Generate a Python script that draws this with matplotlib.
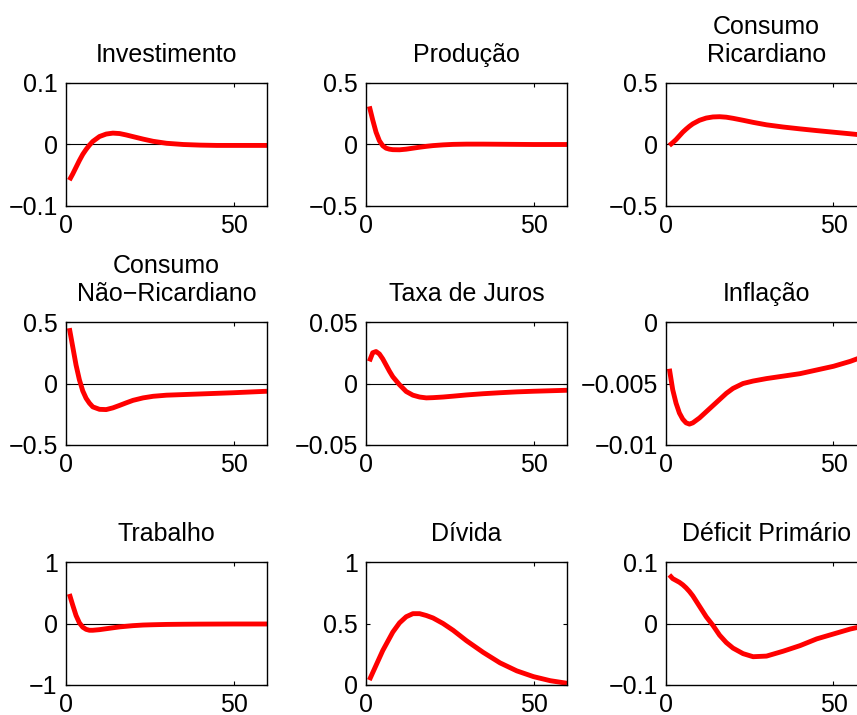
import numpy as np
import matplotlib
matplotlib.use('Agg')
import matplotlib.pyplot as plt

plt.rcParams['font.family'] = ['Liberation Sans', 'DejaVu Sans']
plt.rcParams['axes.unicode_minus'] = True

# periodos das respostas a impulso
t = [1, 2, 3, 4, 5, 6, 7, 8, 10, 12, 14, 16, 18, 20, 23, 26, 30, 35, 40, 45, 50, 55, 60]

investimento = [-0.058, -0.048, -0.037, -0.026, -0.016, -0.008, -0.001, 0.005, 0.013, 0.017,
                0.0185, 0.0178, 0.0155, 0.0128, 0.0088, 0.0052, 0.002, 0.0, -0.001, -0.0015,
                -0.0015, -0.0015, -0.0015]
producao = [0.31, 0.2, 0.1, 0.03, -0.01, -0.03, -0.038, -0.042, -0.043, -0.038,
            -0.03, -0.022, -0.015, -0.009, -0.003, 0.001, 0.003, 0.003, 0.002, 0.001,
            0.0, 0.0, 0.0]
cons_ric = [-0.008, 0.015, 0.04, 0.07, 0.1, 0.125, 0.148, 0.168, 0.197, 0.215,
            0.224, 0.226, 0.222, 0.213, 0.197, 0.18, 0.16, 0.142, 0.127, 0.113,
            0.1, 0.087, 0.073]
cons_nric = [0.45, 0.3, 0.15, 0.03, -0.06, -0.12, -0.16, -0.19, -0.21, -0.212,
             -0.198, -0.178, -0.157, -0.137, -0.117, -0.104, -0.095, -0.09, -0.085, -0.08,
             -0.075, -0.069, -0.063]
juros = [0.018, 0.025, 0.026, 0.024, 0.02, 0.015, 0.01, 0.0055, -0.001, -0.0065,
         -0.0095, -0.011, -0.0117, -0.0115, -0.011, -0.0103, -0.0093, -0.0083, -0.0075, -0.0068,
         -0.0063, -0.0059, -0.0055]
inflacao = [-0.0038, -0.0055, -0.0066, -0.0074, -0.0079, -0.0082, -0.0083, -0.0082, -0.0078, -0.0073,
            -0.0068, -0.0063, -0.0058, -0.0054, -0.005, -0.0048, -0.0046, -0.0044, -0.0042, -0.0039,
            -0.0036, -0.0032, -0.0027]
trabalho = [0.48, 0.3, 0.13, 0.01, -0.06, -0.095, -0.11, -0.11, -0.1, -0.085,
            -0.07, -0.055, -0.045, -0.035, -0.025, -0.02, -0.015, -0.012, -0.01, -0.009,
            -0.008, -0.008, -0.008]
divida = [0.04, 0.1, 0.16, 0.22, 0.28, 0.33, 0.38, 0.43, 0.505, 0.555,
          0.58, 0.58, 0.565, 0.545, 0.5, 0.445, 0.36, 0.265, 0.18, 0.115,
          0.068, 0.035, 0.014]
deficit = [0.079, 0.073, 0.07, 0.067, 0.063, 0.058, 0.052, 0.045, 0.028, 0.011,
           -0.003, -0.019, -0.031, -0.04, -0.049, -0.054, -0.053, -0.045, -0.036, -0.025,
           -0.017, -0.009, -0.003]

titulos = ['Investimento', 'Produção', 'Consumo\nRicardiano',
           'Consumo\nNão\u2212Ricardiano', 'Taxa de Juros', 'Inflação',
           'Trabalho', 'Dívida', 'Déficit Primário']
series = [investimento, producao, cons_ric, cons_nric, juros, inflacao,
          trabalho, divida, deficit]
limites = [(-0.1, 0.1), (-0.5, 0.5), (-0.5, 0.5),
           (-0.5, 0.5), (-0.05, 0.05), (-0.01, 0),
           (-1, 1), (0, 1), (-0.1, 0.1)]
yticks = [[-0.1, 0, 0.1], [-0.5, 0, 0.5], [-0.5, 0, 0.5],
          [-0.5, 0, 0.5], [-0.05, 0, 0.05], [-0.01, -0.005, 0],
          [-1, 0, 1], [0, 0.5, 1], [-0.1, 0, 0.1]]
yrotulos = [['\u22120.1', '0', '0.1'], ['\u22120.5', '0', '0.5'], ['\u22120.5', '0', '0.5'],
            ['\u22120.5', '0', '0.5'], ['\u22120.05', '0', '0.05'], ['\u22120.01', '\u22120.005', '0'],
            ['\u22121', '0', '1'], ['0', '0.5', '1'], ['\u22120.1', '0', '0.1']]

W, H = 857, 715
fig = plt.figure(figsize=(W / 100, H / 100), dpi=100)
esq = [66, 366, 666]
topo = [83, 322, 562]
larg, alt = 201, 123

for k in range(9):
    i, j = divmod(k, 3)
    ax = fig.add_axes([esq[j] / W, 1 - (topo[i] + alt) / H, larg / W, alt / H])
    ax.axhline(0, color='k', lw=0.8)
    ax.plot(t, series[k], color='#ff0000', lw=3.5, solid_capstyle='butt')
    ax.set_xlim(0, 60)
    ax.set_ylim(*limites[k])
    ax.set_xticks([0, 50])
    ax.set_yticks(yticks[k])
    ax.set_yticklabels(yrotulos[k])
    ax.tick_params(direction='in', top=True, right=True, length=3, width=0.8,
                   labelsize=18, pad=6)
    for s in ax.spines.values():
        s.set_linewidth(1.0)
    ax.set_title(titulos[k], fontsize=18, pad=15, linespacing=1.2)

fig.savefig('out.png', dpi=100)
